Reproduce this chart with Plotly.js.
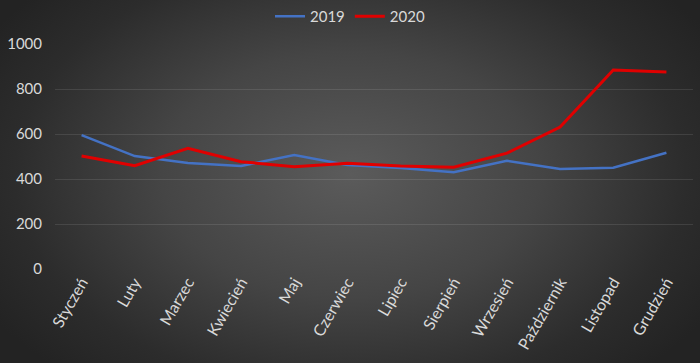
<!DOCTYPE html>
<html><head><meta charset="utf-8">
<script src="https://cdn.plot.ly/plotly-3.0.1.min.js"></script>
<style>
html,body{margin:0;padding:0;}
#chart{width:700px;height:363px;background:radial-gradient(ellipse 60% 75% at 50% 48%, #5b5b5b 0%, #454545 45%, #2c2c2c 80%, #232323 100%);}
</style></head>
<body><div id="chart"></div>
<script>
const months = ["Styczeń","Luty","Marzec","Kwiecień","Maj","Czerwiec","Lipiec","Sierpień","Wrzesień","Październik","Listopad","Grudzień"];
const values2019 = [595, 502, 471, 458, 507, 462, 449, 430, 481, 444, 450, 517];
const values2020 = [502, 459, 536, 477, 455, 470, 458, 452, 515, 631, 884, 876];
const yTicks = [0, 200, 400, 600, 800, 1000];

const traces = [
  {x: months, y: values2019, name: "2019", type: "scatter", mode: "lines",
   line: {color: "#4472c4", width: 2.5}},
  {x: months, y: values2020, name: "2020", type: "scatter", mode: "lines",
   line: {color: "#e00000", width: 3}}
];
const layout = {
  width: 700, height: 363,
  margin: {l: 55, r: 7, t: 44, b: 94},
  paper_bgcolor: "rgba(0,0,0,0)",
  plot_bgcolor: "rgba(0,0,0,0)",
  font: {family: "Lato, 'Open Sans', sans-serif", color: "#d9d9d9", size: 14},
  showlegend: true,
  legend: {orientation: "h", x: 0.5, xref: "container", xanchor: "center", y: 1.0, yref: "container", yanchor: "top",
           font: {size: 15, color: "#d9d9d9"}, itemwidth: 30, bgcolor: "rgba(0,0,0,0)"},
  xaxis: {type: "category", range: [-0.5, 11.5], showgrid: false, zeroline: false, showline: false,
          tickangle: -60, tickfont: {size: 16, color: "#d9d9d9"}, ticks: ""},
  yaxis: {range: [0, 1000], tickvals: yTicks, ticktext: yTicks.map(String), showgrid: true,
          gridcolor: "rgba(255,255,255,0.10)", gridwidth: 1, zeroline: false, showline: false,
          tickfont: {size: 15, color: "#d9d9d9"}, ticks: "", ticklabelstandoff: 12}
};
Plotly.newPlot("chart", traces, layout, {displayModeBar: false, staticPlot: true});
</script></body></html>
